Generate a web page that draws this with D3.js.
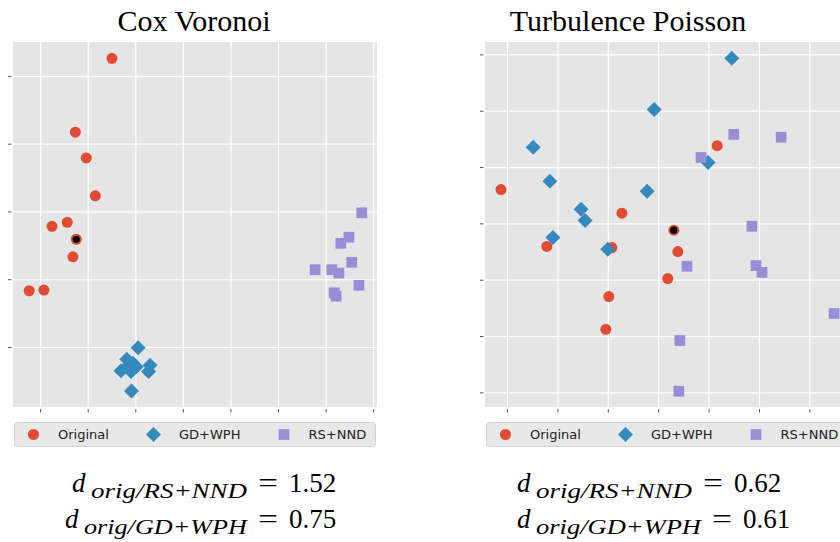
<!DOCTYPE html>
<meta charset="utf-8">
<style>
  body { margin: 0; background: #fff; }
  svg { display: block; }
  .grid line { stroke: #fff; stroke-width: 1.2; }
  .grid path, .axis path { display: none; }
  .axis line { stroke: #555; }
  .title { font-family: "Liberation Serif", serif; font-size: 30px; fill: #000; text-anchor: middle; }
  .legend text { font-family: "DejaVu Sans", sans-serif; font-size: 13px; fill: #222; }
  .dist { font-family: "Liberation Serif", serif; fill: #000; }
</style>
<body>
<script src="https://d3js.org/d3.v7.min.js"></script>
<script>

var seriesNames = ["Original", "GD+WPH", "RS+NND"],
    seriesColors = ["#E24A33", "#348ABD", "#988ED5"],
    seriesShapes = ["circle", "diamond", "square"];

// Cox Voronoi
var coxOrigX = [1.51, 0.74, 0.97, 1.16, 0.57, 0.25, 0.76, 0.69, -0.23, 0.08],
    coxOrigY = [4.26, 3.17, 2.79, 2.23, 1.84, 1.78, 1.59, 1.33, 0.83, 0.84],
    coxGdX = [2.06, 1.82, 1.95, 1.70, 1.91, 1.85, 2.31, 2.28, 1.92, 2.02],
    coxGdY = [-0.01, -0.18, -0.24, -0.35, -0.36, -0.28, -0.27, -0.36, -0.65, -0.29],
    coxRsX = [6.76, 6.49, 6.32, 6.55, 5.78, 6.13, 6.28, 6.70, 6.18, 6.22],
    coxRsY = [1.98, 1.62, 1.53, 1.25, 1.14, 1.14, 1.09, 0.91, 0.80, 0.75],
    coxMarked = 6,
    coxXTicks = [0, 1, 2, 3, 4, 5, 6, 7],
    coxYTicks = [0, 1, 2, 3, 4],
    coxDistNames = ["RS+NND", "GD+WPH"],
    coxDistValues = ["1.52", "0.75"];

// Turbulence Poisson
var turbOrigX = [-0.12, 2.28, 4.17, 3.31, 0.79, 2.08, 2.02, 1.96, 3.19, 3.39],
    turbOrigY = [3.60, 3.18, 4.38, 2.88, 2.59, 2.57, 1.70, 1.12, 2.02, 2.50],
    turbGdX = [0.52, 2.92, 0.85, 1.47, 1.55, 2.78, 4.46, 3.99, 0.91, 2.00],
    turbGdY = [4.35, 5.02, 3.75, 3.25, 3.05, 3.57, 5.93, 4.08, 2.75, 2.54],
    turbRsX = [4.50, 5.44, 3.85, 4.86, 3.57, 4.94, 5.06, 6.49, 3.43, 3.41],
    turbRsY = [4.58, 4.53, 4.17, 2.95, 2.24, 2.25, 2.13, 1.40, 0.92, 0.02],
    turbMarked = 3,
    turbXTicks = [0, 1, 2, 3, 4, 5, 6],
    turbYTicks = [0, 1, 2, 3, 4, 5, 6],
    turbDistNames = ["RS+NND", "GD+WPH"],
    turbDistValues = ["0.62", "0.61"];

var svg = d3.select("body").append("svg")
        .attr("width", 840)
        .attr("height", 542);

var plotTop = 42, plotBottom = 407;

var panels = [
    {
        title: "Cox Voronoi", titleX: 194,
        left: 13, right: 377,
        xDomain: [-0.57, 7.08], yDomain: [-0.885, 4.5],
        xTicks: coxXTicks, yTicks: coxYTicks,
        series: [[coxOrigX, coxOrigY], [coxGdX, coxGdY], [coxRsX, coxRsY]],
        marked: coxMarked,
        distNames: coxDistNames, distValues: coxDistValues,
        distStart: [72, 65], subWidth: [156, 163]
    },
    {
        title: "Turbulence Poisson", titleX: 628,
        left: 485, right: 849,
        xDomain: [-0.437, 6.786], yDomain: [-0.26, 6.22],
        xTicks: turbXTicks, yTicks: turbYTicks,
        series: [[turbOrigX, turbOrigY], [turbGdX, turbGdY], [turbRsX, turbRsY]],
        marked: turbMarked,
        distNames: turbDistNames, distValues: turbDistValues,
        distStart: [517, 517], subWidth: [156, 165]
    }
];

var symbols = {
    circle: d3.symbol().type(d3.symbolCircle).size(Math.PI * 5.5 * 5.5),
    diamond: d3.symbol().type(d3.symbolSquare).size(112),
    square: d3.symbol().type(d3.symbolSquare).size(115)
};

function marker(sel, shape, color) {
    sel.attr("d", symbols[shape]())
        .attr("fill", color);
    if (shape == "diamond") {
        var t = sel.attr("transform");
        sel.attr("transform", t + " rotate(45)");
    }
}

panels.forEach(function(p) {
    var x = d3.scaleLinear().domain(p.xDomain).range([p.left, p.right]);
    var y = d3.scaleLinear().domain(p.yDomain).range([plotBottom, plotTop]);

    svg.append("text")
        .attr("class", "title")
        .attr("x", p.titleX)
        .attr("y", 31)
        .text(p.title);

    svg.append("rect")
        .attr("x", p.left).attr("y", plotTop)
        .attr("width", p.right - p.left).attr("height", plotBottom - plotTop)
        .attr("fill", "#E5E5E5");

    svg.append("g")
        .attr("class", "grid")
        .attr("transform", "translate(0," + plotBottom + ")")
        .call(d3.axisBottom(x).tickValues(p.xTicks).tickSize(-(plotBottom - plotTop)).tickFormat(""));

    svg.append("g")
        .attr("class", "grid")
        .attr("transform", "translate(" + p.left + ",0)")
        .call(d3.axisLeft(y).tickValues(p.yTicks).tickSize(-(p.right - p.left)).tickFormat(""));

    // outer tick marks, no labels
    svg.append("g")
        .attr("class", "axis")
        .attr("transform", "translate(0," + (plotBottom + 2) + ")")
        .call(d3.axisBottom(x).tickValues(p.xTicks).tickSize(3.5).tickFormat(""));

    svg.append("g")
        .attr("class", "axis")
        .attr("transform", "translate(" + (p.left - 1.5) + ",0)")
        .call(d3.axisLeft(y).tickValues(p.yTicks).tickSize(3.5).tickFormat(""));

    p.series.forEach(function(s, i) {
        var pts = s[0].map(function(v, k) { return [v, s[1][k]]; });
        svg.append("g").selectAll("path")
            .data(pts)
            .enter().append("path")
            .attr("transform", function(d) { return "translate(" + x(d[0]) + "," + y(d[1]) + ")"; })
            .each(function() { marker(d3.select(this), seriesShapes[i], seriesColors[i]); });
    });

    // highlighted original point
    svg.append("circle")
        .attr("cx", x(p.series[0][0][p.marked]))
        .attr("cy", y(p.series[0][1][p.marked]))
        .attr("r", 3.6)
        .attr("fill", "#000");

    // legend
    var lg = svg.append("g")
        .attr("class", "legend")
        .attr("transform", "translate(" + (p.left + 1) + ",422)");

    lg.append("rect")
        .attr("x", 0.5).attr("y", 0.5)
        .attr("width", 361).attr("height", 24)
        .attr("rx", 3)
        .attr("fill", "#E8E8E8")
        .attr("stroke", "#D2D2D2");

    var markX = [19.5, 139.5, 270], textX = [44, 165, 294.5];
    seriesNames.forEach(function(name, i) {
        lg.append("path")
            .attr("transform", "translate(" + markX[i] + ",12.5)")
            .call(marker, seriesShapes[i], seriesColors[i]);
        lg.append("text")
            .attr("x", textX[i])
            .attr("y", 17)
            .text(name);
    });

    // distance annotations
    p.distNames.forEach(function(name, j) {
        var base = 492 + j * 36,
            x0 = p.distStart[j],
            sx = x0 + 19,
            eq = sx + p.subWidth[j] + 11;
        svg.append("text").attr("class", "dist")
            .attr("x", x0).attr("y", base)
            .style("font-size", "27px").style("font-style", "italic")
            .text("d");
        svg.append("text").attr("class", "dist")
            .attr("x", sx).attr("y", base + 5.5)
            .attr("textLength", p.subWidth[j])
            .attr("lengthAdjust", "spacingAndGlyphs")
            .style("font-size", "20px").style("font-style", "italic")
            .text("orig/" + name);
        svg.append("text").attr("class", "dist")
            .attr("x", eq).attr("y", base)
            .attr("textLength", 20)
            .attr("lengthAdjust", "spacingAndGlyphs")
            .style("font-size", "28px")
            .text("=");
        svg.append("text").attr("class", "dist")
            .attr("x", eq + 31).attr("y", base)
            .style("font-size", "27px")
            .text(p.distValues[j]);
    });
});

</script>
